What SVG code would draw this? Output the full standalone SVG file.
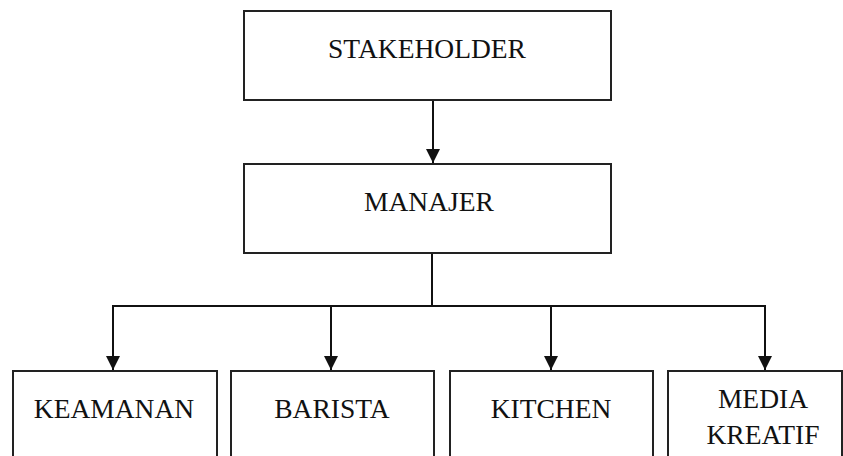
<svg xmlns="http://www.w3.org/2000/svg" width="843" height="456" viewBox="0 0 843 456">
<style>
.box{fill:#fff;stroke:#222;stroke-width:2}
.lbl{font-family:"Liberation Serif","Times New Roman",serif;font-size:27.5px;fill:#111;text-anchor:middle}
.ln{fill:none;stroke:#111;stroke-width:2}
</style>
<defs>
<marker id="ah" viewBox="0 0 14 15" refX="14" refY="7" markerWidth="14" markerHeight="15" markerUnits="userSpaceOnUse" orient="auto">
<path d="M0,0 L14,7 L0,14 Z" fill="#111"/>
</marker>
</defs>
<rect width="843" height="456" fill="#fff"/>
<g id="connectors">
<line class="ln" x1="433" y1="100" x2="433" y2="163" marker-end="url(#ah)"/>
<line class="ln" x1="432" y1="253" x2="432" y2="306"/>
<polyline class="ln" points="113,370 113,306 765,306 765,370" marker-end="url(#ah)"/>
<line class="ln" x1="331" y1="306" x2="331" y2="370" marker-end="url(#ah)"/>
<line class="ln" x1="551" y1="306" x2="551" y2="370" marker-end="url(#ah)"/>
<line class="ln" x1="113" y1="306" x2="113" y2="370" marker-end="url(#ah)"/>
</g>
<g id="stakeholder">
<rect class="box" x="244" y="11" width="367" height="89"/>
<text class="lbl" x="427" y="58">STAKEHOLDER</text>
</g>
<g id="manajer">
<rect class="box" x="244" y="164" width="367" height="89"/>
<text class="lbl" x="429" y="211">MANAJER</text>
</g>
<g id="keamanan">
<rect class="box" x="13" y="371" width="204" height="100"/>
<text class="lbl" x="114" y="418">KEAMANAN</text>
</g>
<g id="barista">
<rect class="box" x="231" y="371" width="203" height="100"/>
<text class="lbl" x="332" y="418">BARISTA</text>
</g>
<g id="kitchen">
<rect class="box" x="450" y="371" width="203" height="100"/>
<text class="lbl" x="551" y="418">KITCHEN</text>
</g>
<g id="media">
<rect class="box" x="668" y="371" width="174" height="100"/>
<text class="lbl" x="763" y="408">MEDIA</text>
<text class="lbl" x="763" y="444">KREATIF</text>
</g>
</svg>
